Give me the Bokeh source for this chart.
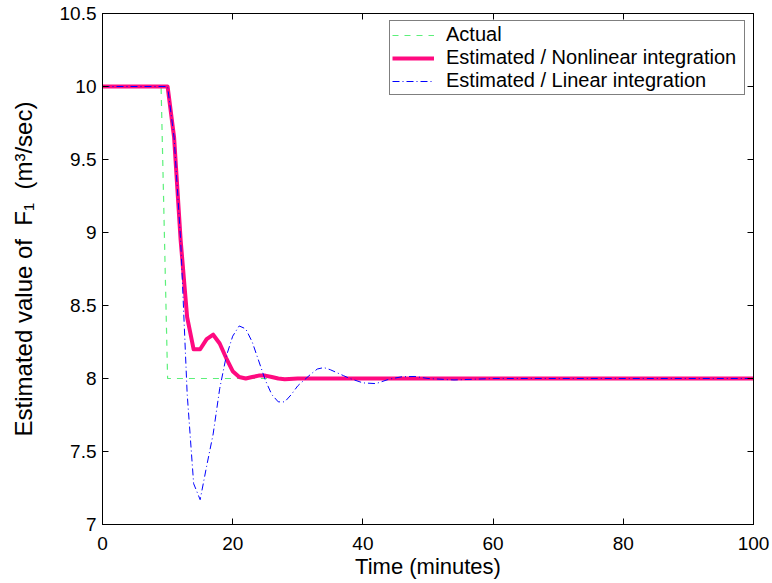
from bokeh.plotting import figure
from bokeh.models import Range1d, LinearAxis, FixedTicker, Legend, LegendItem
from bokeh.embed import file_html
from bokeh.resources import INLINE

# ---------------- data ----------------
t_actual = [0, 9, 10, 100]
f_actual = [10, 10, 8, 8]

t_nonlin = [0, 10, 11, 12, 13, 14, 15, 16, 17, 18, 19, 20, 21, 22, 23, 24, 25, 26, 27, 28, 30, 100]
f_nonlin = [10, 10, 9.65, 8.95, 8.42, 8.20, 8.20, 8.27, 8.30, 8.24, 8.14, 8.05, 8.01, 8.00, 8.01,
            8.02, 8.02, 8.01, 8.00, 7.995, 8.0, 8.0]

t_linear = [0, 10, 11, 12, 13, 14, 15, 16, 17, 18, 19, 20, 21, 22, 23, 24, 25, 26, 27, 28, 29, 30,
            31, 32, 33, 34, 35, 36, 37, 38, 40, 42, 44, 46, 48, 50, 54, 60, 100]
f_linear = [10, 10, 9.65, 8.95, 7.90, 7.28, 7.17, 7.40, 7.62, 7.93, 8.15, 8.29, 8.36, 8.34, 8.25,
            8.12, 7.99, 7.89, 7.84, 7.84, 7.89, 7.95, 7.99, 8.03, 8.065, 8.075, 8.06, 8.04, 8.02,
            8.0, 7.97, 7.965, 7.995, 8.012, 8.014, 8.0, 7.99, 8.0, 8.0]

series_names = ["Actual", "Estimated / Nonlinear integration", "Estimated / Linear integration"]

x_ticks = [0, 20, 40, 60, 80, 100]
x_tick_labels = ["0", "20", "40", "60", "80", "100"]
y_ticks = [7, 7.5, 8, 8.5, 9, 9.5, 10, 10.5]
y_tick_labels = ["7", "7.5", "8", "8.5", "9", "9.5", "10", "10.5"]

x_label = "Time (minutes)"
y_label = "Estimated value of \u00a0F\u2081\u00a0 (m\u00b3/sec)"

# ---------------- figure ----------------
FONT = "Liberation Sans"
FW, FH = 651, 511
p = figure(frame_width=FW, frame_height=FH, output_backend="svg", toolbar_location=None,
           x_range=Range1d(0, 100), y_range=Range1d(7, 10.5),
           min_border_left=102, min_border_right=18, min_border_top=13, min_border_bottom=50,
           background_fill_color="white", border_fill_color="white")
p.outline_line_color = "black"
p.grid.visible = False

xa = p.xaxis[0]
xa.ticker = FixedTicker(ticks=x_ticks)
xa.major_label_overrides = {t: l for t, l in zip(x_ticks, x_tick_labels)}
ya = p.yaxis[0]
ya.ticker = FixedTicker(ticks=y_ticks)
ya.major_label_overrides = {t: l for t, l in zip(y_ticks, y_tick_labels)}

for ax in (xa, ya):
    ax.major_tick_in = 6
    ax.major_tick_out = 0
    ax.minor_tick_line_color = None
    ax.axis_line_color = "black"
    ax.major_tick_line_color = "black"
    ax.major_label_text_font = FONT
    ax.major_label_text_font_size = "19px"
    ax.major_label_text_color = "black"
    ax.axis_label_text_font = FONT
    ax.axis_label_text_font_style = "normal"
    ax.axis_label_text_color = "black"
xa.major_label_standoff = 12
ya.major_label_standoff = 6

xa.axis_label = x_label
xa.axis_label_text_font_size = "22px"
xa.axis_label_standoff = 1
ya.axis_label = y_label
ya.axis_label_text_font_size = "24px"
ya.axis_label_standoff = 20

# top / right axes for inward ticks (no labels)
top = LinearAxis(ticker=FixedTicker(ticks=x_ticks),
                 major_label_overrides={t: "" for t in x_ticks},
                 major_label_standoff=0, major_tick_in=6, major_tick_out=0,
                 minor_tick_line_color=None, axis_line_color="black")
right = LinearAxis(ticker=FixedTicker(ticks=y_ticks),
                   major_label_overrides={t: "" for t in y_ticks},
                   major_label_standoff=0, major_tick_in=6, major_tick_out=0,
                   minor_tick_line_color=None, axis_line_color="black")
p.add_layout(top, "above")
p.add_layout(right, "right")

# ---------------- lines ----------------
r_act = p.line(t_actual, f_actual, line_color="#5cf07a", line_width=1.2, line_dash="6 6")
r_non = p.line(t_nonlin, f_nonlin, line_color="#ff0a80", line_width=4, line_join="round")
r_lin = p.line(t_linear, f_linear, line_color="#0000ff", line_width=1, line_dash="7 3 1 3")

legend = Legend(items=[LegendItem(label=series_names[0], renderers=[r_act]),
                       LegendItem(label=series_names[1], renderers=[r_non]),
                       LegendItem(label=series_names[2], renderers=[r_lin])],
                location=(287, 429))
legend.border_line_color = "black"
legend.border_line_width = 1
legend.background_fill_color = "white"
legend.background_fill_alpha = 1
legend.label_text_font = FONT
legend.label_text_font_size = "20px"
legend.label_text_color = "black"
legend.glyph_width = 42
legend.glyph_height = 20
legend.label_standoff = 12
legend.padding = 2
legend.spacing = 0
legend.margin = 0
legend.label_width = 296
legend.label_height = 20
p.add_layout(legend)

open("out.html", "w").write(file_html(p, INLINE))
